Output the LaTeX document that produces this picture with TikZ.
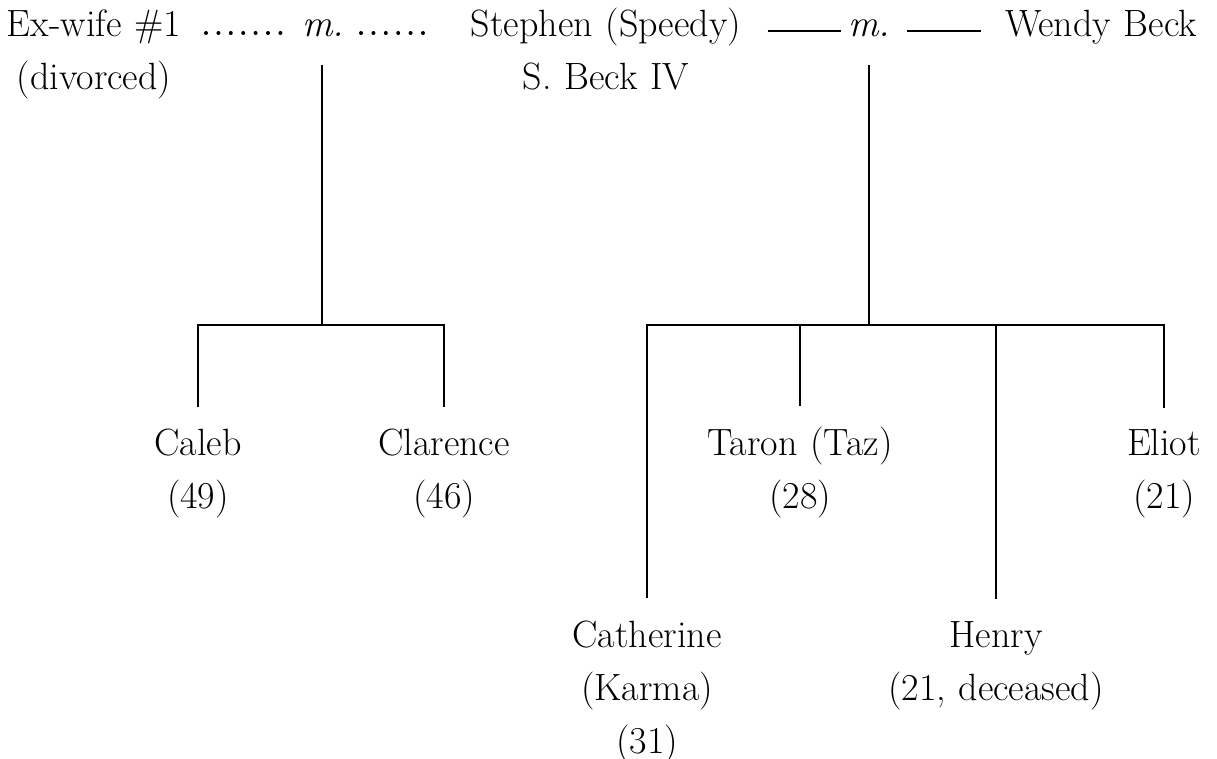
\documentclass[tikz,border=0pt]{standalone}
\usepackage{fontspec}
\usetikzlibrary{positioning}

\begin{document}
\begin{tikzpicture}[x=0.5pt, y=-0.5pt, line width=1pt,
        person/.style={anchor=base, inner sep=0pt, align=center, text width=130pt, font=\fontsize{19}{26.5}\selectfont},
        child/.style={person, outer ysep=11pt},
        wed/.style={person, outer ysep=14pt, text width=20pt, font=\fontsize{19}{26.5}\selectfont\itshape},
        exline/.style={line cap=round, line width=2pt, dash pattern=on 0pt off 6.2pt},
        wedline/.style={line width=1pt}]
        \useasboundingbox (0,0) rectangle (1217,759);
        % parents
        \node[person, text width=92pt] (exwife) at (94,37) {Ex-wife \#1\\(divorced)};
        \node[wed] (m1) at (322,37) {m.};
        \node[person, text width=140.5pt] (stephen) at (606,37) {Stephen (Speedy)\\S. Beck IV};
        \node[wed, text width=21pt] (m2) at (869,37) {m.};
        \node[person, text width=101.5pt] (wendy) at (1101,37) {Wendy Beck};
        \draw[exline, shorten <=9.5pt, shorten >=10pt] ([yshift=2pt]exwife.base east) -- ([yshift=2pt]m1.base west);
        \draw[exline, shorten <=9pt, shorten >=14.6pt] ([yshift=2pt]m1.base east) -- ([yshift=2pt]stephen.base west);
        \draw[wedline, shorten <=10pt, shorten >=3pt] ([yshift=3pt]stephen.base east) -- ([yshift=3pt]m2.base west);
        \draw[wedline, shorten <=8pt, shorten >=9pt] ([yshift=3pt]m2.base east) -- ([yshift=3pt]wendy.base west);
        % children
        \node[child] (caleb) at (198,456) {Caleb\\(49)};
        \node[child] (clarence) at (444,456) {Clarence\\(46)};
        \node[child] (taron) at (800,456) {Taron (Taz)\\(28)};
        \node[child] (eliot) at (1164,456) {Eliot\\(21)};
        \node[child] (catherine) at (647,647) {Catherine\\(Karma)\\(31)};
        \node[child] (henry) at (996,647) {Henry\\(21, deceased)};
        \coordinate (bar1) at (322,325);
        \coordinate (bar2) at (869,325);
        \draw (m1.south) -- (bar1);
        \draw (caleb.north) |- (bar1) -| (clarence.north);
        \draw (m2.south) -- (bar2);
        \draw (catherine.north) |- (bar2) -| (eliot.north);
        \draw (taron.north) -- (taron.north |- bar2);
        \draw (henry.north) -- (henry.north |- bar2);
\end{tikzpicture}
\end{document}
